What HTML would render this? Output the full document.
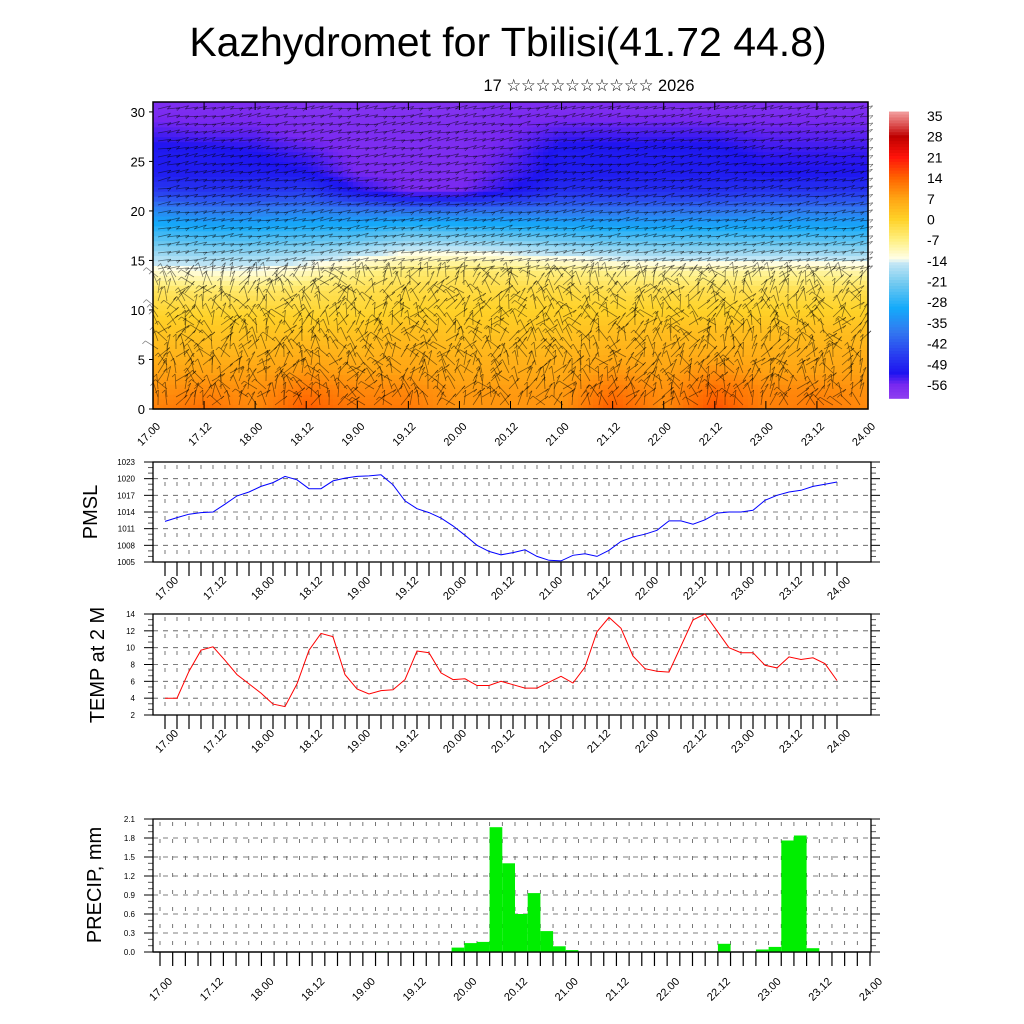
<!DOCTYPE html>
<html><head><meta charset="utf-8"><style>
html,body{margin:0;padding:0;background:#fff;}
svg{display:block;font-family:"Liberation Sans","DejaVu Sans",sans-serif;}
</style></head><body>
<svg id="root" width="1024" height="1024" viewBox="0 0 1024 1024" xmlns="http://www.w3.org/2000/svg">
<text x="508" y="56" font-size="41" text-anchor="middle">Kazhydromet for Tbilisi(41.72 44.8)</text>
<text x="589" y="91" font-size="17" text-anchor="middle" textLength="211" lengthAdjust="spacingAndGlyphs">17 ☆☆☆☆☆☆☆☆☆☆ 2026</text>
<g id="heat"></g>
<g id="cbar"></g>
<g id="pmsl"></g>
<g id="temp"></g>
<g id="precip"></g>
<text transform="translate(97,512) rotate(-90)" font-size="20" text-anchor="middle">PMSL</text>
<text transform="translate(104,665) rotate(-90)" font-size="20" text-anchor="middle">TEMP at 2 M</text>
<text transform="translate(101,885) rotate(-90)" font-size="20" text-anchor="middle">PRECIP, mm</text>
</svg>
<script>
// ---------- data ----------
const timeLabels = ["17.00","17.12","18.00","18.12","19.00","19.12","20.00","20.12","21.00","21.12","22.00","22.12","23.00","23.12","24.00"];
const heightLevels = [0,2,4,6,8,10,12,14,16,18,20,22,24,26,28,30];
const tempField = [
 [11,9,7,4,2,-1,-4,-12,-19,-27,-35,-46,-51,-51,-54,-57],
 [13,10,7,4,2,-1,-5,-13,-20,-28,-37,-47,-51,-51,-55,-57],
 [10,9,7,4,2,-1,-5,-13,-20,-28,-37,-47,-51,-52,-55,-57],
 [15,12,8,5,2,-1,-4,-11,-19,-27,-36,-46,-52,-54,-57,-58],
 [12,10,7,4,2,-1,-3,-8,-17,-27,-37,-52,-56,-57,-57,-58],
 [12,10,7,5,3,0,-2,-6,-14,-24,-38,-56,-57,-57,-57,-58],
 [9,8,6,4,2,0,-2,-5,-14,-25,-38,-56,-57,-57,-57,-58],
 [9,8,6,4,2,0,-2,-6,-15,-26,-38,-52,-54,-55,-56,-57],
 [9,8,6,4,2,0,-2,-7,-17,-27,-38,-48,-51,-51,-54,-57],
 [15,12,8,5,3,0,-3,-8,-18,-28,-38,-48,-51,-51,-54,-57],
 [10,9,7,5,3,0,-3,-9,-19,-28,-38,-48,-51,-51,-54,-57],
 [16,13,9,5,3,0,-3,-9,-19,-28,-38,-48,-51,-51,-54,-57],
 [11,10,7,5,3,0,-3,-9,-19,-28,-37,-47,-52,-53,-55,-57],
 [12,10,7,5,3,0,-3,-9,-19,-28,-37,-47,-52,-53,-55,-57],
 [10,9,7,5,3,0,-3,-10,-19,-28,-37,-47,-52,-53,-55,-57]
];
const heightTicks = [0,5,10,15,20,25,30];
const cbarLabels = [35,28,21,14,7,0,-7,-14,-21,-28,-35,-42,-49,-56];
const pmslValues = [1012.3,1013.0,1013.6,1013.9,1014.0,1015.4,1016.9,1017.6,1018.6,1019.3,1020.4,1019.8,1018.2,1018.2,1019.6,1020.1,1020.4,1020.5,1020.7,1018.9,1016.0,1014.6,1013.9,1012.9,1011.5,1009.8,1008.0,1006.9,1006.3,1006.7,1007.2,1006.0,1005.3,1005.2,1006.2,1006.5,1006.0,1007.1,1008.7,1009.5,1010.0,1010.7,1012.4,1012.4,1011.8,1012.6,1013.8,1014.0,1014.0,1014.3,1016.1,1017.0,1017.6,1017.9,1018.6,1019.0,1019.4];
const pmslTicks = [1005,1008,1011,1014,1017,1020,1023];
const tempValues = [4.0,4.0,7.2,9.7,10.1,8.5,6.8,5.7,4.6,3.3,3.0,5.7,9.7,11.7,11.3,6.8,5.1,4.5,4.9,5.0,6.2,9.6,9.4,7.0,6.2,6.3,5.5,5.5,6.0,5.6,5.2,5.2,5.9,6.6,5.8,7.7,11.9,13.6,12.3,9.0,7.5,7.2,7.1,10.2,13.3,14.0,12.0,10.0,9.4,9.4,7.9,7.6,8.9,8.6,8.8,8.1,6.1];
const tempTicks = [2,4,6,8,10,12,14];
const precipValues = [0,0,0,0,0,0,0,0,0,0,0,0,0,0,0,0,0,0.01,0,0,0,0,0,0.07,0.14,0.16,1.97,1.40,0.60,0.93,0.33,0.09,0.03,0,0,0,0,0,0,0,0,0,0,0.01,0.13,0,0,0.04,0.08,1.76,1.84,0.06,0,0,0,0];
const precipTicks = [0.0,0.3,0.6,0.9,1.2,1.5,1.8,2.1];

// ---------- helpers ----------
const NS="http://www.w3.org/2000/svg";
function mk(parent,tag,attrs){const e=document.createElementNS(NS,tag);for(const k in attrs)e.setAttribute(k,attrs[k]);parent.appendChild(e);return e;}
const cmapStops=[[-62,[150,70,240]],[-56,[120,40,240]],[-52,[30,20,240]],[-46,[40,60,240]],[-38,[50,120,240]],[-30,[20,170,250]],[-22,[110,200,240]],[-14.5,[200,232,245]],[-13.5,[255,255,235]],[-7,[255,240,130]],[0,[255,210,40]],[7,[255,165,20]],[14,[255,100,0]],[21,[255,20,10]],[28,[190,0,0]],[32,[220,80,80]],[37,[245,170,170]]];
function cmap(v){
  if(v<=cmapStops[0][0])return cmapStops[0][1];
  for(let i=1;i<cmapStops.length;i++){const a=cmapStops[i-1],b=cmapStops[i];
    if(v<=b[0]){const t=(v-a[0])/(b[0]-a[0]);return a[1].map((c,j)=>Math.round(c+(b[1][j]-c)*t));}}
  return cmapStops[cmapStops.length-1][1];
}
const rgb=c=>`rgb(${c[0]},${c[1]},${c[2]})`;

// ---------- top cross-section ----------
const heat=document.getElementById('heat');
const HX0=153,HX1=868,HY0=409,HYtop=102,HMAX=31;
const hx=t=>HX0+(HX1-HX0)*t/(timeLabels.length-1);
const hy=h=>HY0-(HY0-HYtop)*h/HMAX;
const NX=143,NY=62;
for(let i=0;i<NX;i++){
  for(let j=0;j<NY;j++){
    const t=(i+0.5)/NX*(timeLabels.length-1);
    const h=(j+0.5)/NY*HMAX;
    const ti=Math.min(Math.floor(t),timeLabels.length-2),tf=t-ti;
    let hi=Math.min(Math.floor(h/2),heightLevels.length-2),hf=(h-heightLevels[hi])/2; if(hf>1)hf=1;
    const v=(1-tf)*((1-hf)*tempField[ti][hi]+hf*tempField[ti][hi+1])+tf*((1-hf)*tempField[ti+1][hi]+hf*tempField[ti+1][hi+1]);
    const x0=HX0+(HX1-HX0)*i/NX,x1=HX0+(HX1-HX0)*(i+1)/NX;
    const y1=HY0-(HY0-HYtop)*j/NY,y0=HY0-(HY0-HYtop)*(j+1)/NY;
    const r=mk(heat,'rect',{x:x0.toFixed(2),y:y0.toFixed(2),width:(x1-x0+0.6).toFixed(2),height:(y1-y0+0.6).toFixed(2),fill:rgb(cmap(v))});
    
    
  }
}
// decorative wind-barb texture
const barbs=mk(heat,'g',{stroke:'rgba(0,0,0,0.5)','stroke-width':'0.75'});


let seed=7;const rnd=()=>{seed=(seed*9301+49297)%233280;return seed/233280;};
for(let y=HY0-4;y>HYtop+3;y-=8){
  for(let x=HX0+5;x<HX1-3;x+=9){
    const hgt=(HY0-y)/(HY0-HYtop)*HMAX;
    let a=hgt>14? (Math.PI*(0.02+0.08*rnd())) : (Math.PI*(0.15+0.7*rnd()));
    const L=hgt>14?13:15;
    const dx=Math.cos(a)*L,dy=-Math.sin(a)*L;
    mk(barbs,'line',{x1:x.toFixed(1),y1:y.toFixed(1),x2:(x+dx).toFixed(1),y2:(y+dy).toFixed(1)});
    mk(barbs,'line',{x1:(x+dx).toFixed(1),y1:(y+dy).toFixed(1),x2:(x+dx-3).toFixed(1),y2:(y+dy+3).toFixed(1)});
  }
}
mk(heat,'rect',{x:HX0,y:HYtop,width:HX1-HX0,height:HY0-HYtop,fill:'none',stroke:'#000','stroke-width':'1.5'});
heightTicks.forEach(h=>{
  const y=hy(h);
  mk(heat,'line',{x1:HX0-4,y1:y,x2:HX0,y2:y,stroke:'#000'});
  const t=mk(heat,'text',{x:HX0-8,y:y+5,'font-size':'13','text-anchor':'end'});t.textContent=h;
  
  
});
timeLabels.forEach((lab,i)=>{
  const x=hx(i);
  mk(heat,'line',{x1:x,y1:HY0,x2:x,y2:HY0-8,stroke:'#000'});
  mk(heat,'line',{x1:x,y1:HYtop,x2:x,y2:HYtop+8,stroke:'#000'});
  const t=mk(heat,'text',{x:0,y:0,'font-size':'11','text-anchor':'end',transform:`translate(${x+8},${HY0+18}) rotate(-45)`});t.textContent=lab;
  
  
});

// ---------- colorbar ----------
const cb=document.getElementById('cbar');
const CBX=889,CBW=20;
const cby=v=>116+(35-v)*(385-116)/91;
for(let v=36;v>=-60;v-=1){
  const r=mk(cb,'rect',{x:CBX,y:cby(v+0.5).toFixed(2),width:CBW,height:(cby(v-0.5)-cby(v+0.5)+0.5).toFixed(2),fill:rgb(cmap(v))});
  
  
}
cbarLabels.forEach(v=>{
  const t=mk(cb,'text',{x:927,y:cby(v)+5,'font-size':'14'});t.textContent=v;
  
  
});

// ---------- line / bar panels ----------
function panel(g,opt){
  const {x0,x1,y0,y1,lo,hi,ticks,fmt,dx0,dx1,n,lx,ly}=opt;
  const X=i=>dx0+(dx1-dx0)*i/(n-1);
  const Y=v=>y1-(y1-y0)*(v-lo)/(hi-lo);
  for(let i=0;i<n;i++){
    const x=X(i);
    if(x>x0+2&&x<x1-2) mk(g,'line',{x1:x,y1:y0+3,x2:x,y2:y1,stroke:'#555','stroke-width':'0.8','stroke-dasharray':'4,13'});
    mk(g,'line',{x1:x,y1:y1,x2:x,y2:y1+14,stroke:'#000','stroke-width':'1.2'});
  }
  const step=(ticks[1]-ticks[0]);
  ticks.forEach((v,k)=>{
    const y=Y(v);
    if(k>0&&k<ticks.length-1) mk(g,'line',{x1:x0,y1:y,x2:x1,y2:y,stroke:'#555','stroke-width':'0.8','stroke-dasharray':'5,5'});
    mk(g,'line',{x1:x0-9,y1:y,x2:x0,y2:y,stroke:'#000'});
    mk(g,'line',{x1:x1,y1:y,x2:x1+9,y2:y,stroke:'#000'});
    if(k<ticks.length-1){for(let m=1;m<3;m++){const ym=Y(v+step*m/3);
      mk(g,'line',{x1:x0-5,y1:ym,x2:x0,y2:ym,stroke:'#555'});
      mk(g,'line',{x1:x1,y1:ym,x2:x1+5,y2:ym,stroke:'#555'});}}
    const t=mk(g,'text',{x:x0-18,y:y+3,'font-size':'8','text-anchor':'end'});t.textContent=fmt(v);
    
    
  });
  mk(g,'rect',{x:x0,y:y0,width:x1-x0,height:y1-y0,fill:'none',stroke:'#000','stroke-width':'1.3'});
  for(let i=0;i<n;i+=4){
    const t=mk(g,'text',{x:0,y:0,'font-size':'11','text-anchor':'end',transform:`translate(${X(i)+4+lx},${y1+22+ly}) rotate(-45)`});
    t.textContent=timeLabels[i/4];
    
    
  }
  return {X,Y};
}
const pm=document.getElementById('pmsl');
const pa=panel(pm,{x0:153,x1:871,y0:462,y1:562,lo:1005,hi:1023,ticks:pmslTicks,fmt:v=>v,dx0:165,dx1:837,n:57,lx:10,ly:-3});
const pl=mk(pm,'polyline',{points:pmslValues.map((v,i)=>pa.X(i).toFixed(1)+','+pa.Y(v).toFixed(1)).join(' '),fill:'none',stroke:'#0000ff','stroke-width':'1'});



const tm=document.getElementById('temp');
const ta=panel(tm,{x0:153,x1:871,y0:614,y1:715,lo:2,hi:14,ticks:tempTicks,fmt:v=>v,dx0:165,dx1:837,n:57,lx:10,ly:-3});
const tl=mk(tm,'polyline',{points:tempValues.map((v,i)=>ta.X(i).toFixed(1)+','+ta.Y(v).toFixed(1)).join(' '),fill:'none',stroke:'#ff0000','stroke-width':'1'});



const pr=document.getElementById('precip');
const pp=panel(pr,{x0:153,x1:871,y0:819,y1:952,lo:0,hi:2.1,ticks:precipTicks,fmt:v=>v.toFixed(1),dx0:160,dx1:870,n:57,lx:9,ly:8});
precipValues.forEach((v,i)=>{
  if(v<=0)return;
  const xa=pp.X(i),xb=pp.X(i+1);
  const r=mk(pr,'rect',{x:xa.toFixed(1),y:pp.Y(v).toFixed(1),width:(xb-xa).toFixed(1),height:(952-pp.Y(v)).toFixed(1),fill:'#00ee00'});
  
  
});
mk(pr,'line',{x1:153,y1:952,x2:871,y2:952,stroke:'#000','stroke-width':'1.3'});
</script>
</body></html>
